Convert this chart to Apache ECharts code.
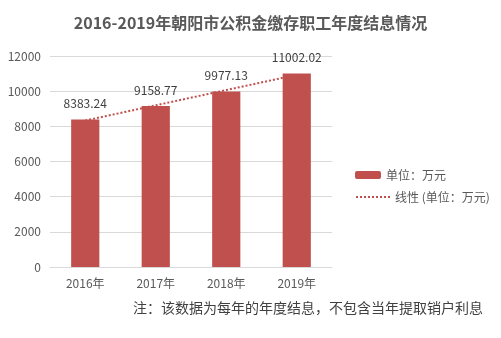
<!DOCTYPE html>
<html>
<head>
<meta charset="utf-8">
<script src="https://cdn.jsdelivr.net/npm/echarts@6/dist/echarts.min.js"></script>
<style>
  html, body { margin: 0; padding: 0; background: #fff; }
  #chart { width: 501px; height: 338px; }
</style>
</head>
<body>
<div id="chart"></div>
<script>
// Annual interest settlement for Chaoyang housing provident fund depositors (万元)
const categories = ['2016年', '2017年', '2018年', '2019年'];
const interestValues = [8383.24, 9158.77, 9977.13, 11002.02];
// Linear trend line values
const trendValues = [8329, 9196, 10063, 10931];
const yTicks = [0, 2000, 4000, 6000, 8000, 10000, 12000];

const barColor = '#c0504d';
const textColor = '#595959';
const fontFamily = '"Noto Sans CJK SC", "Noto Sans", sans-serif';

const chart = echarts.init(document.getElementById('chart'), null, { renderer: 'canvas' });

chart.setOption({
  animation: false,
  backgroundColor: '#ffffff',
  textStyle: { fontFamily: fontFamily },
  title: {
    text: '2016-2019年朝阳市公积金缴存职工年度结息情况',
    left: 'center',
    top: 10,
    textStyle: { fontSize: 16, fontWeight: 'bold', color: textColor, fontFamily: fontFamily }
  },
  grid: { left: 50, right: 169, top: 56, bottom: 71, containLabel: false },
  xAxis: {
    type: 'category',
    data: categories,
    axisLine: { lineStyle: { color: '#d9d9d9' } },
    axisTick: { show: false },
    axisLabel: { color: textColor, fontSize: 12, margin: 10 }
  },
  yAxis: {
    type: 'value',
    min: yTicks[0],
    max: yTicks[yTicks.length - 1],
    interval: 2000,
    axisLine: { show: false },
    axisTick: { show: false },
    axisLabel: { color: textColor, fontSize: 12, margin: 9, formatter: v => String(v) },
    splitLine: { lineStyle: { color: '#d9d9d9', width: 1 } }
  },
  legend: [
    {
      data: ['单位：万元'],
      left: 350,
      top: 164,
      itemWidth: 26,
      itemHeight: 8,
      textStyle: { color: textColor, fontSize: 12 }
    },
    {
      data: ['线性 (单位：万元)'],
      left: 350,
      top: 186,
      itemWidth: 34,
      itemHeight: 8,
      itemStyle: { opacity: 0 },
      textStyle: { color: textColor, fontSize: 12 }
    }
  ],
  series: [
    {
      name: '单位：万元',
      type: 'bar',
      data: interestValues,
      barWidth: '40%',
      itemStyle: { color: barColor },
      label: {
        show: true,
        position: 'top',
        distance: 10,
        color: '#404040',
        fontSize: 12,
        formatter: p => p.value.toFixed(2)
      }
    },
    {
      name: '线性 (单位：万元)',
      type: 'line',
      data: trendValues,
      symbol: 'none',
      z: 3,
      lineStyle: { color: barColor, width: 2, type: [2, 2] },
      itemStyle: { color: barColor }
    }
  ],
  graphic: [
    {
      type: 'text',
      left: 133,
      top: 301,
      style: {
        text: '注：该数据为每年的年度结息，不包含当年提取销户利息',
        fill: '#404040',
        font: '14px "Noto Sans CJK SC", sans-serif'
      }
    }
  ]
});
</script>
</body>
</html>
